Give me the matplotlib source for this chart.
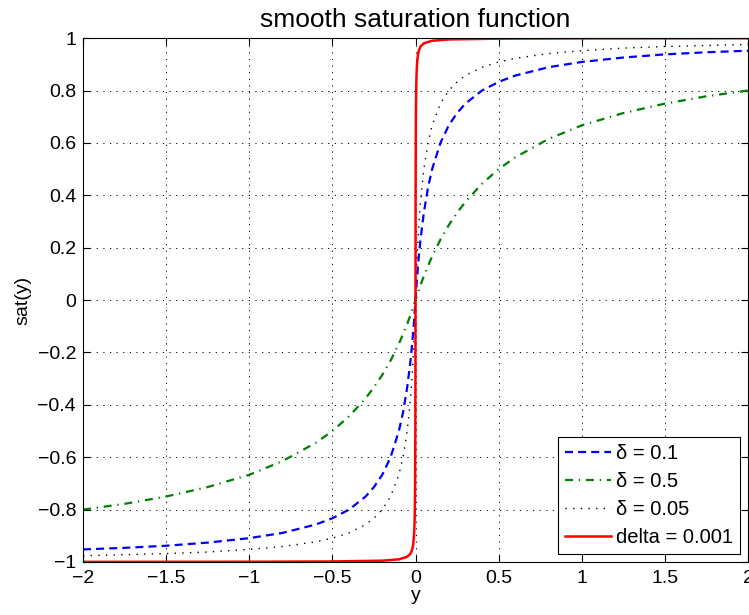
import numpy as np
import matplotlib.pyplot as plt

plt.rcParams['font.family'] = ['Liberation Sans', 'DejaVu Sans']

# sample points
x_pts = [-2, -1.75, -1.5, -1.25, -1, -0.8, -0.6, -0.5, -0.4, -0.3, -0.25, -0.2, -0.15,
         -0.1, -0.075, -0.05, -0.03, -0.02, -0.01, 0,
         0.01, 0.02, 0.03, 0.05, 0.075, 0.1, 0.15, 0.2, 0.25, 0.3, 0.4, 0.5, 0.6, 0.8,
         1, 1.25, 1.5, 1.75, 2]

sat_d01 = [-0.952, -0.946, -0.938, -0.926, -0.909, -0.889, -0.857, -0.833, -0.800, -0.750,
           -0.714, -0.667, -0.600, -0.500, -0.429, -0.333, -0.231, -0.167, -0.091, 0.0,
           0.091, 0.167, 0.231, 0.333, 0.429, 0.500, 0.600, 0.667, 0.714, 0.750, 0.800,
           0.833, 0.857, 0.889, 0.909, 0.926, 0.938, 0.946, 0.952]

sat_d05 = [-0.800, -0.778, -0.750, -0.714, -0.667, -0.615, -0.545, -0.500, -0.444, -0.375,
           -0.333, -0.286, -0.231, -0.167, -0.130, -0.091, -0.057, -0.038, -0.020, 0.0,
           0.020, 0.038, 0.057, 0.091, 0.130, 0.167, 0.231, 0.286, 0.333, 0.375, 0.444,
           0.500, 0.545, 0.615, 0.667, 0.714, 0.750, 0.778, 0.800]

sat_d005 = [-0.976, -0.972, -0.968, -0.962, -0.952, -0.941, -0.923, -0.909, -0.889, -0.857,
            -0.833, -0.800, -0.750, -0.667, -0.600, -0.500, -0.375, -0.286, -0.167, 0.0,
            0.167, 0.286, 0.375, 0.500, 0.600, 0.667, 0.750, 0.800, 0.833, 0.857, 0.889,
            0.909, 0.923, 0.941, 0.952, 0.962, 0.968, 0.972, 0.976]

x_red = [-2, -1, -0.5, -0.2, -0.1, -0.05, -0.03, -0.02, -0.015, -0.01, -0.007, -0.005,
         -0.003, -0.002, -0.001, -0.0005, 0,
         0.0005, 0.001, 0.002, 0.003, 0.005, 0.007, 0.01, 0.015, 0.02, 0.03, 0.05, 0.1,
         0.2, 0.5, 1, 2]
sat_d0001 = [-0.9995, -0.999, -0.998, -0.995, -0.990, -0.980, -0.968, -0.952, -0.938,
             -0.909, -0.875, -0.833, -0.750, -0.667, -0.500, -0.333, 0.0,
             0.333, 0.500, 0.667, 0.750, 0.833, 0.875, 0.909, 0.938, 0.952, 0.968, 0.980,
             0.990, 0.995, 0.998, 0.999, 0.9995]

xticks = [-2, -1.5, -1, -0.5, 0, 0.5, 1, 1.5, 2]
xtick_labels = ['\u22122', '\u22121.5', '\u22121', '\u22120.5', '0', '0.5', '1', '1.5', '2']
yticks = [-1, -0.8, -0.6, -0.4, -0.2, 0, 0.2, 0.4, 0.6, 0.8, 1]
ytick_labels = ['\u22121', '\u22120.8', '\u22120.6', '\u22120.4', '\u22120.2', '0',
                '0.2', '0.4', '0.6', '0.8', '1']

fig = plt.figure(figsize=(7.49, 6.15), dpi=100)
ax = fig.add_axes([0.1108, 0.0862, 0.8879, 0.8518])

ax.plot(x_pts, sat_d01, color='#0000ff', lw=1.6, dashes=(3.6, 2.3), label='\u03b4 = 0.1')
ax.plot(x_pts, sat_d05, color='#008000', lw=1.6, dashes=(3.6, 2.6, 0.6, 2.6), label='\u03b4 = 0.5')
ax.plot(x_pts, sat_d005, color='black', lw=1.0, dashes=(1, 4.5), label='\u03b4 = 0.05')
ax.plot(x_red, sat_d0001, '-', color='#ff0000', lw=1.8, label='delta = 0.001')

ax.set_xlim(-2, 2)
ax.set_ylim(-1, 1)
ax.set_xticks(xticks)
ax.set_xticklabels(xtick_labels)
ax.set_yticks(yticks)
ax.set_yticklabels(ytick_labels)
ax.tick_params(direction='in', top=True, right=True, labelsize=14, length=5, width=0.8)
ax.tick_params(axis='x', pad=6)
ax.tick_params(axis='y', pad=5)
ax.grid(True, color='black', lw=0.7, dashes=(1.2, 5.6))
for s in ax.spines.values():
    s.set_linewidth(0.8)

ax.set_title('smooth saturation function', fontsize=19, pad=8)
ax.set_xlabel('y', fontsize=14, labelpad=0)
ax.set_ylabel('sat(y)', fontsize=14, labelpad=4)

leg = ax.legend(loc='lower right', fontsize=14.5, handlelength=2.3, fancybox=False,
                framealpha=1, edgecolor='black', borderaxespad=0.4, labelspacing=0.45,
                handletextpad=0.25, borderpad=0.35)
leg.get_frame().set_linewidth(0.8)

fig.savefig('out.png', dpi=100)
